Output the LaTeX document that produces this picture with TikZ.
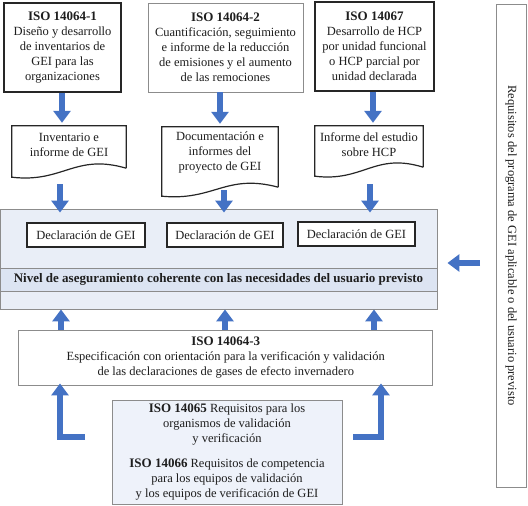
\documentclass[tikz,border=0pt]{standalone}
\usepackage{fontspec}
\setmainfont{Liberation Serif}
\usetikzlibrary{arrows.meta,calc}
\definecolor{arrblue}{HTML}{4472C4}
\definecolor{panelfill}{HTML}{E9EEF7}
\definecolor{bandfill}{HTML}{DCE4F2}
\definecolor{lowfill}{HTML}{EEF2FA}
\definecolor{darkline}{HTML}{262626}
\definecolor{grayline}{HTML}{8C8C8C}
\definecolor{txt}{HTML}{1E1E1E}
\newcommand\hd[1]{{\fontsize{13}{15}\selectfont\bfseries #1}}
\tikzset{
  txtfont/.style={font=\fontsize{12.5}{15}\selectfont, text=txt},
  darkbox/.style={draw=darkline, line width=1.2pt, fill=white, align=center, inner sep=0pt, txtfont},
  graybox/.style={draw=grayline, line width=0.9pt, fill=white, align=center, inner sep=0pt, txtfont},
  plain/.style={align=center, inner sep=0pt, txtfont},
  arr/.style={draw=arrblue, line width=6.5pt, line join=miter,
     -{Triangle[width=17pt,length=12pt]}},
}
\begin{document}
\begin{tikzpicture}[x=1pt,y=-1pt]
\useasboundingbox (0,0) rectangle (528,506);

% top boxes
\node[darkbox, minimum width=117pt, minimum height=89pt] (b1) at (62.5,47.5)
  {\hd{ISO 14064-1}\\Diseño y desarrollo\\de inventarios de\\GEI para las\\organizaciones};
\node[graybox, minimum width=155pt, minimum height=89pt] (b2) at (225.5,47.5)
  {\hd{ISO 14064-2}\\Cuantificación, seguimiento\\e informe de la reducción\\de emisiones y el aumento\\de las remociones};
\node[darkbox, minimum width=119pt, minimum height=89pt] (b3) at (374.5,46.5)
  {\hd{ISO 14067}\\Desarrollo de HCP\\por unidad funcional\\o HCP parcial por\\unidad declarada};

% document frames
\node[inner sep=0pt, minimum width=114pt, minimum height=42pt] (d1) at (69,147) {};
\node[inner sep=0pt, minimum width=116pt, minimum height=60pt] (d2) at (220,157) {};
\node[inner sep=0pt, minimum width=108pt, minimum height=41pt] (d3) at (369,146.5) {};
\coordinate (d1t) at (69,144.5);
\coordinate (d2t) at (220,153);
\coordinate (d3t) at (369,145);

\foreach \d/\pk in {d1/15, d2/14, d3/15}{
  \draw[draw=darkline, line width=1.2pt, fill=white]
    ($(\d.south east)$) -- (\d.north east) -- (\d.north west) -- ($(\d.south west)+(0,9)$)
    .. controls ($(\d.south west)!0.45!(\d.south east)+(0,\pk)$) and ($(\d.south west)!0.55!(\d.south east)+(0,-\pk)$) .. (\d.south east);
}
\node[plain] (d1x) at (d1t) {Inventario e\\informe de GEI};
\node[plain] (d2x) at (d2t) {Documentación e\\informes del\\proyecto de GEI};
\node[plain] (d3x) at (d3t) {Informe del estudio\\sobre HCP};

% big panel
\node[draw=grayline, line width=0.9pt, fill=panelfill, minimum width=437pt, minimum height=100pt, inner sep=0pt] (panel) at (218.5,259) {};
\node[draw=grayline, line width=0.9pt, fill=bandfill, minimum width=437pt, minimum height=23pt, inner sep=0pt,
  text=txt] (band) at (218.5,279.5)
  {\hd{Nivel de aseguramiento coherente con las necesidades del usuario previsto}};
\node[darkbox, minimum width=118pt, minimum height=24pt] (g1) at (86,235) {Declaración de GEI};
\node[darkbox, minimum width=116pt, minimum height=24pt] (g2) at (225,235) {Declaración de GEI};
\node[darkbox, minimum width=117pt, minimum height=24pt] (g3) at (356.5,234) {Declaración de GEI};

% right tall box
\node[graybox, minimum width=30pt, minimum height=483pt] (rb) at (511,245.5) {};
\node[plain, rotate=-90] (rbt) at (rb.center) {Requisitos del programa de GEI aplicable o del usuario previsto};

% ISO 14064-3
\node[graybox, minimum width=414pt, minimum height=55pt] (i3) at (225.75,357.5)
  {\hd{ISO 14064-3}\\Especificación con orientación para la verificación y validación\\de las declaraciones de gases de efecto invernadero};

% bottom box
\node[draw=grayline, line width=0.9pt, fill=lowfill, minimum width=230pt, minimum height=104pt, inner sep=0pt, align=center, txtfont] (bb) at (227,452)
  {\hd{ISO 14065} Requisitos para los\\organismos de validación\\y verificación\\[10pt]\hd{ISO 14066} Requisitos de competencia\\para los equipos de validación\\y los equipos de verificación de GEI};

% arrow columns
\coordinate (t1) at (62,0);
\coordinate (t2) at (220,0);
\coordinate (t3) at (373,0);
\coordinate (m1) at (60,184);
\coordinate (m2) at (224,190);
\coordinate (m3) at (370,184);
\coordinate (c1) at (61,0);
\coordinate (c2) at (225,0);
\coordinate (c3) at (374,0);
\coordinate (l1) at (85,437);
\coordinate (l2) at (353,437);
\coordinate (la) at (480,263);

\draw[arr, shorten >=3pt] (t1 |- b1.south) -- (t1 |- d1.north);
\draw[arr, shorten >=3pt] (t2 |- b2.south) -- (t2 |- d2.north);
\draw[arr, shorten >=3pt] (t3 |- b3.south) -- (t3 |- d3.north);

\draw[arr, shorten >=-4pt] (m1) -- (m1 |- panel.north);
\draw[arr, shorten >=-4pt] (m2) -- (m2 |- panel.north);
\draw[arr, shorten >=-4pt] (m3) -- (m3 |- panel.north);

\draw[arr] (c1 |- i3.north) -- (c1 |- panel.south);
\draw[arr] (c2 |- i3.north) -- (c2 |- panel.south);
\draw[arr] (c3 |- i3.north) -- (c3 |- panel.south);

\draw[arr, shorten >=-2pt] (l1) -| (60,0 |- i3.south);
\draw[arr, shorten >=-2pt] (l2) -| (381,0 |- i3.south);

\draw[arr] (la) -- ($(panel.east |- la)+(10,0)$);
\end{tikzpicture}
\end{document}
